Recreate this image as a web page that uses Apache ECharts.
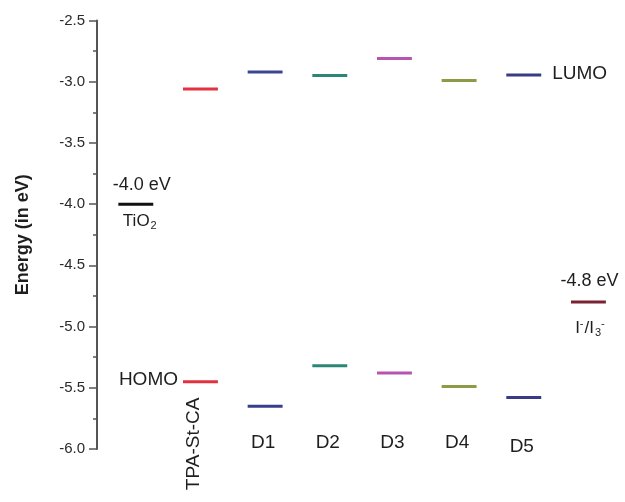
<!DOCTYPE html>
<html>
<head>
<meta charset="utf-8">
<script src="https://cdn.jsdelivr.net/npm/echarts@6/dist/echarts.min.js"></script>
<style>html,body{margin:0;padding:0;background:#fff;}#c{width:625px;height:502px;}</style>
</head>
<body>
<div id="c"></div>
<script>
// ---- data ----
var categories = ['TiO2', 'TPA-St-CA', 'D1', 'D2', 'D3', 'D4', 'D5', 'I-/I3-'];
var categoryLabels = ['', 'TPA-St-CA', 'D1', 'D2', 'D3', 'D4', 'D5', ''];
var lumo = [null, -3.06, -2.92, -2.95, -2.81, -2.99, -2.945, null];
var homo = [null, -5.45, -5.65, -5.32, -5.38, -5.49, -5.58, null];
var tio2Level = -4.0;
var redoxLevel = -4.8;
var yTicks = [-6.0, -5.5, -5.0, -4.5, -4.0, -3.5, -3.0, -2.5];

// ---- styles ----
var lumoColors = [null, '#e3313d', '#3c4790', '#2b8677', '#b654b0', '#8c9b46', '#3b3a86', null];
var homoColors = [null, '#e3313d', '#383e8e', '#2b8677', '#b654b0', '#8c9b46', '#3b3a86', null];
var HALF = 0.27;
var FONT = '"Liberation Sans", Arial, sans-serif';
var TXT = '#1e1e1e';

function levelData(values, colors) {
  var out = [];
  values.forEach(function (v, i) {
    if (v !== null) out.push({ value: [i, v], itemStyle: { color: colors[i] } });
  });
  return out;
}

var levels = []
  .concat(levelData(lumo, lumoColors))
  .concat(levelData(homo, homoColors))
  .concat([{ value: [0, tio2Level], itemStyle: { color: '#111111' } }])
  .concat([{ value: [7, redoxLevel], itemStyle: { color: '#7b2232' } }]);

function renderLevel(params, api) {
  var x = api.value(0), y = api.value(1);
  var p1 = api.coord([x - HALF, y]);
  var p2 = api.coord([x + HALF, y]);
  return {
    type: 'line',
    shape: { x1: p1[0], y1: p1[1], x2: p2[0], y2: p2[1] },
    style: { stroke: levels[params.dataIndex].itemStyle.color, lineWidth: 3 }
  };
}

var chart = echarts.init(document.getElementById('c'), null, { renderer: 'canvas' });
chart.setOption({
  animation: false,
  backgroundColor: '#ffffff',
  grid: { left: 97, right: 1, top: 20.5, bottom: 53, containLabel: false },
  xAxis: { type: 'value', min: -0.6, max: 7.55, show: false },
  yAxis: {
    type: 'value', min: yTicks[0], max: yTicks[yTicks.length - 1], interval: 0.5,
    name: 'Energy (in eV)', nameLocation: 'middle', nameGap: 65,
    nameTextStyle: { fontFamily: FONT, fontSize: 18, fontWeight: 'bold', color: TXT },
    axisLine: { show: true, onZero: false, lineStyle: { color: '#555', width: 2 } },
    axisTick: { show: true, inside: false, length: 8, lineStyle: { color: '#555', width: 1.5 } },
    minorTick: { show: true, splitNumber: 2, length: 4, lineStyle: { color: '#555', width: 1.5 } },
    splitLine: { show: false },
    axisLabel: {
      fontFamily: FONT, fontSize: 15, color: '#2a2a2a', margin: 12,
      formatter: function (v) { return v.toFixed(1); }
    }
  },
  series: [{
    type: 'custom',
    renderItem: renderLevel,
    data: levels,
    clip: false
  }]
});

function px(x, y) { return chart.convertToPixel({ gridIndex: 0 }, [x, y]); }
var RICH = {
  sub: { fontFamily: FONT, fontSize: 11, fill: TXT, padding: [9, 0, 0, 1] },
  sup: { fontFamily: FONT, fontSize: 11, fill: TXT, padding: [0, 1, 9, 0] },
  n: { fontFamily: FONT, fontSize: 17, fill: TXT }
};
function txt(x, y, text, opt) {
  var s = Object.assign({ text: text, fontFamily: FONT, fontSize: 18, fill: TXT, align: 'center', verticalAlign: 'middle', rich: RICH }, opt || {});
  return { type: 'text', x: x, y: y, style: s, silent: true };
}

var g = [];
// category labels
var bottomY = px(0, -5.95)[1];
categoryLabels.forEach(function (lab, i) {
  if (!lab) return;
  var p = px(i, -5.95);
  if (lab === 'TPA-St-CA') {
    g.push({ type: 'text', x: p[0] - 7, y: p[1] + 1, rotation: Math.PI / 2,
      style: { text: lab, fontFamily: FONT, fontSize: 19, fill: TXT, align: 'center', verticalAlign: 'middle' } });
  } else {
    g.push(txt(p[0] - 2, bottomY + (i === 6 ? 4 : 0), lab, { fontSize: 19 }));
  }
});
// HOMO / LUMO
var ph = px(1 - HALF, homo[1]);
g.push(txt(ph[0] - 5, ph[1] - 2, 'HOMO', { align: 'right', fontSize: 19 }));
var pl = px(6 + HALF, lumo[6]);
g.push(txt(pl[0] + 11, pl[1] - 1, 'LUMO', { align: 'left', fontSize: 19 }));
// TiO2
var pt = px(0, tio2Level);
g.push(txt(pt[0] + 6, pt[1] - 19, '-4.0 eV', { fontSize: 18 }));
g.push(txt(pt[0] + 4, pt[1] + 17, '{n|TiO}{sub|2}', {}));
// redox
var pr = px(7, redoxLevel);
g.push(txt(pr[0] + 1, pr[1] - 21, '-4.8 eV', { fontSize: 18 }));
g.push(txt(pr[0] + 2, pr[1] + 26, '{n|I}{sup|-}{n|/I}{sub|3}{sup|-}', {}));

chart.setOption({ graphic: g });
</script>
</body>
</html>
